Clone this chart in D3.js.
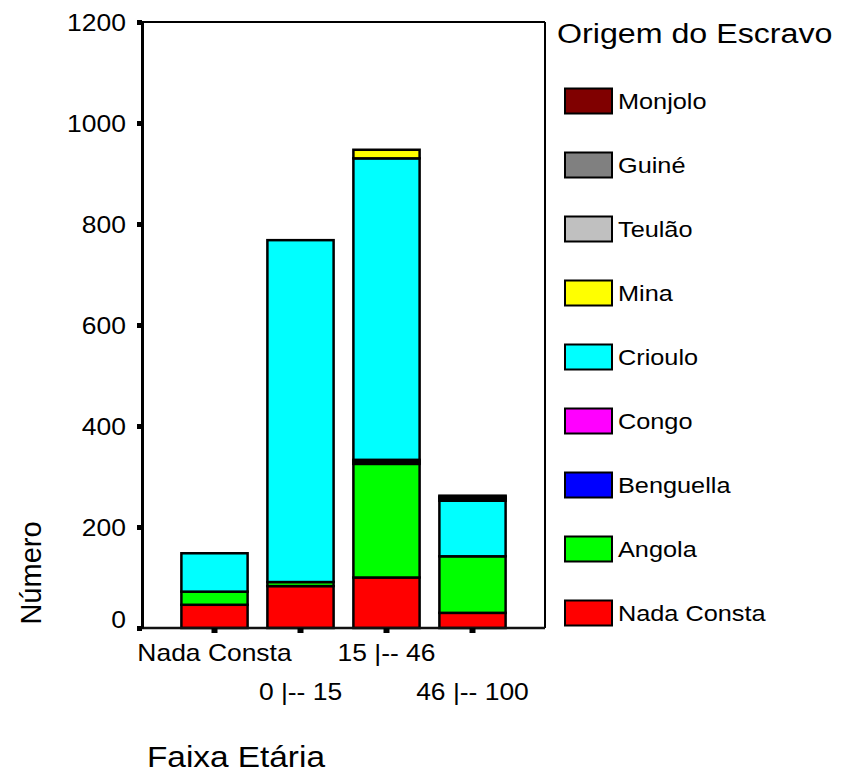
<!DOCTYPE html>
<html>
<head>
<meta charset="utf-8">
<script src="https://cdn.jsdelivr.net/npm/d3@7"></script>
<style>
  body { margin: 0; background: #fff; }
  svg text { font-family: "Liberation Sans", Arial, sans-serif; fill: #000; }
</style>
</head>
<body>
<svg id="chart" width="854" height="775"></svg>
<script>
// age groups (x axis)
var categories = ["Nada Consta", "0 |-- 15", "15 |-- 46", "46 |-- 100"];

// origin of the slave, stacked bottom to top
var series = ["Nada Consta", "Angola", "Benguella", "Congo", "Crioulo", "Mina", "Teulão", "Guiné", "Monjolo"];
var colors = ["#ff0000", "#00ff00", "#0000ff", "#ff00ff", "#00ffff", "#ffff00", "#c0c0c0", "#808080", "#800000"];

// counts per series, one value per age group
var nadaConsta = [46, 83, 100, 30];
var angola     = [26, 8, 225, 112];
var benguella  = [0, 0, 4, 0];
var congo      = [0, 0, 4, 0];
var crioulo    = [76, 677, 597, 110];
var mina       = [0, 0, 17, 4];
var teulao     = [0, 0, 0, 2];
var guine      = [0, 0, 0, 2];
var monjolo    = [0, 0, 0, 2];

var yTicks = [0, 200, 400, 600, 800, 1000, 1200];

var values = [nadaConsta, angola, benguella, congo, crioulo, mina, teulao, guine, monjolo];
var rows = categories.map(function (c, i) {
    var r = { cat: c };
    series.forEach(function (s, j) { r[s] = values[j][i]; });
    return r;
});

var svg = d3.select("#chart");
var STRETCH = 1.15; // text in the original is drawn a bit wide

var plotLeft = 142, plotRight = 545, plotTop = 22, plotBottom = 628;

var x = d3.scaleBand().domain(categories).range([plotLeft, plotRight])
    .paddingInner(0.23).paddingOuter(0.458);
var y = d3.scaleLinear().domain([0, 1200]).range([plotBottom, plotTop]);
var color = d3.scaleOrdinal().domain(series).range(colors);

function wideText(sel, px, py) {
    return sel.attr("x", 0).attr("y", 0)
        .attr("transform", "translate(" + px + "," + py + ") scale(" + STRETCH + ",1)");
}

// stacked bars
var stacked = d3.stack().keys(series)(rows);
svg.append("g").selectAll("g")
    .data(stacked).enter().append("g")
    .attr("fill", function (d) { return color(d.key); })
    .selectAll("rect")
    .data(function (d) { return d.filter(function (p) { return p[1] - p[0] > 0; }); })
    .enter().append("rect")
    .attr("x", function (d) { return x(d.data.cat); })
    .attr("width", x.bandwidth())
    .attr("y", function (d) { return y(d[1]); })
    .attr("height", function (d) { return y(d[0]) - y(d[1]); })
    .attr("stroke", "#000")
    .attr("stroke-width", 2.5);

// frame
svg.append("line").attr("x1", plotLeft).attr("x2", plotRight).attr("y1", plotTop).attr("y2", plotTop)
    .attr("stroke", "#000").attr("stroke-width", 2);
svg.append("line").attr("x1", plotRight).attr("x2", plotRight).attr("y1", plotTop).attr("y2", plotBottom)
    .attr("stroke", "#000").attr("stroke-width", 2);
svg.append("line").attr("x1", plotLeft).attr("x2", plotRight).attr("y1", plotBottom).attr("y2", plotBottom)
    .attr("stroke", "#111").attr("stroke-width", 2.5);

// y axis
var yAxis = svg.append("g")
    .attr("transform", "translate(" + plotLeft + ",0)")
    .call(d3.axisLeft(y).tickValues(yTicks).tickFormat(d3.format("d")).tickSize(5).tickSizeOuter(0));
yAxis.select(".domain").attr("stroke", "#000").attr("stroke-width", 3);
yAxis.selectAll(".tick line").attr("stroke", "#000").attr("stroke-width", 5);
yAxis.selectAll(".tick text")
    .attr("font-size", 23)
    .attr("dy", "0.35em")
    .attr("x", -14)
    .attr("transform", function (d) { return (d === 0 ? "translate(0,-9) " : "") + "scale(" + STRETCH + ",1)"; });

// x axis
var xAxis = svg.append("g")
    .attr("transform", "translate(0," + plotBottom + ")")
    .call(d3.axisBottom(x).tickSize(5).tickSizeOuter(0));
xAxis.select(".domain").remove();
xAxis.selectAll(".tick line").attr("stroke", "#000").attr("stroke-width", 6);
xAxis.selectAll(".tick text")
    .attr("font-size", 23)
    .attr("dy", 0)
    .attr("y", function (d, i) { return i % 2 ? 72 : 33; })
    .attr("transform", "scale(" + STRETCH + ",1)");

// axis titles
wideText(svg.append("text"), 147, 767)
    .attr("font-size", 29)
    .text("Faixa Etária");
svg.append("text")
    .attr("transform", "translate(41,573) rotate(-90)")
    .attr("text-anchor", "middle")
    .attr("font-size", 29)
    .text("Número");

// legend
wideText(svg.append("text"), 557, 43)
    .attr("font-size", 28)
    .text("Origem do Escravo");

var ly = d3.scalePoint().domain(series.slice().reverse()).range([101, 613]);
var legend = svg.append("g").selectAll("g")
    .data(series).enter().append("g")
    .attr("transform", function (d) { return "translate(565," + ly(d) + ")"; });
legend.append("rect")
    .attr("x", 0).attr("y", -12.5)
    .attr("width", 47).attr("height", 25)
    .attr("fill", function (d) { return color(d); })
    .attr("stroke", "#000").attr("stroke-width", 2);
legend.append("text")
    .attr("x", 0).attr("y", 0)
    .attr("transform", "translate(53,8) scale(" + STRETCH + ",1)")
    .attr("font-size", 22)
    .text(function (d) { return d; });
</script>
</body>
</html>
